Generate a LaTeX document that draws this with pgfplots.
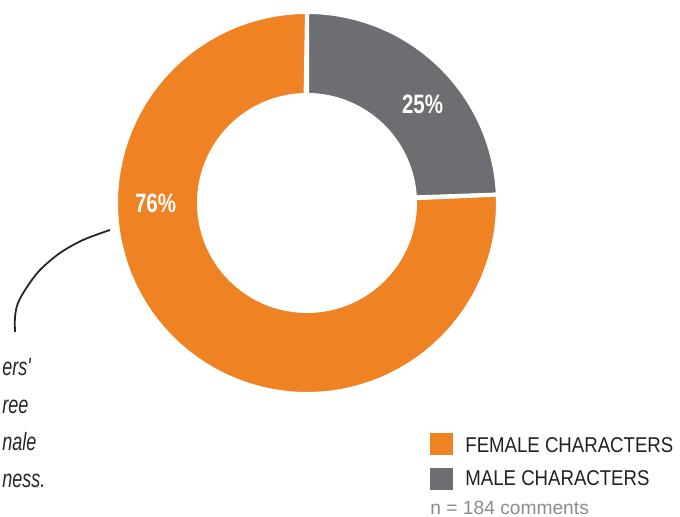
\documentclass[border=0pt]{standalone}
\usepackage{pgfplots}
\pgfplotsset{compat=1.18}
\usepackage{fontspec}
\setmainfont{Liberation Sans}
\newfontfamily\cond{Liberation Sans}[FakeStretch=0.87]
\newfontfamily\pctfont{Liberation Sans}[FakeStretch=0.77]
\newfontfamily\hand{Liberation Sans}[FakeStretch=0.72]
\definecolor{femaleC}{HTML}{EF8223}
\definecolor{maleC}{HTML}{6D6E72}
\definecolor{txt}{HTML}{231F20}
\definecolor{ntxt}{HTML}{8C8C8C}
% shares (percent)
\newcommand\maleval{24.3}
\newcommand\femaleval{75.7}
\begin{document}
\begin{tikzpicture}
\useasboundingbox (0,0) rectangle (340pt,258.5pt);
\clip (0,0) rectangle (340pt,258.5pt);
\begin{axis}[
  at={(0,0)}, anchor=south west,
  width=340pt, height=258.5pt, scale only axis,
  xmin=0, xmax=680, ymin=0, ymax=517,
  axis lines=none, clip=false,
]
% male slice: from 90 deg clockwise
\pgfmathsetmacro\mA{90}
\pgfmathsetmacro\mB{90-3.6*\maleval}
\addplot[fill=maleC, draw=white, line width=2pt, domain=0:2, samples=361]
  ({307+ifthenelse(x<1.0001,191,108)*cos(ifthenelse(x<1.0001,\mA+(\mB-\mA)*x,\mB-(\mB-\mA)*(x-1)))},
   {314+ifthenelse(x<1.0001,191,108)*sin(ifthenelse(x<1.0001,\mA+(\mB-\mA)*x,\mB-(\mB-\mA)*(x-1)))}) -- cycle;
% female slice
\pgfmathsetmacro\fA{\mB}
\pgfmathsetmacro\fB{\mB-3.6*\femaleval}
\addplot[fill=femaleC, draw=white, line width=2pt, domain=0:2, samples=721]
  ({307+ifthenelse(x<1.0001,191,108)*cos(ifthenelse(x<1.0001,\fA+(\fB-\fA)*x,\fB-(\fB-\fA)*(x-1)))},
   {314+ifthenelse(x<1.0001,191,108)*sin(ifthenelse(x<1.0001,\fA+(\fB-\fA)*x,\fB-(\fB-\fA)*(x-1)))}) -- cycle;
% labels
\node[text=white, font=\pctfont\bfseries\fontsize{13.3}{14}\selectfont] at (axis cs:422.5,413) {25\%};
\node[text=white, font=\pctfont\bfseries\fontsize{13.3}{14}\selectfont] at (axis cs:155.5,314) {76\%};
% annotation curve
\addplot[smooth, draw=black!85, line width=0.9pt, tension=0.55] coordinates {
 (110,287) (83,277) (60,264) (40,247) (27,230) (18,214) (15,200) (15,185)};
% handwritten note (fragments visible inside the image border)
\node[anchor=base west, inner sep=0pt, text=black!85, font=\hand\itshape\fontsize{12.5}{14}\selectfont] at (axis cs:2,141) {ers'};
\node[anchor=base west, inner sep=0pt, text=black!85, font=\hand\itshape\fontsize{12.5}{14}\selectfont] at (axis cs:2,103) {ree};
\node[anchor=base west, inner sep=0pt, text=black!85, font=\hand\itshape\fontsize{12.5}{14}\selectfont] at (axis cs:2,66) {nale};
\node[anchor=base west, inner sep=0pt, text=black!85, font=\hand\itshape\fontsize{12.5}{14}\selectfont] at (axis cs:2,29) {ness.};
% legend
\fill[femaleC] (axis cs:430,62) rectangle (axis cs:453,84);
\fill[maleC] (axis cs:430,27) rectangle (axis cs:453,49);
\node[anchor=base west, inner sep=0pt, text=txt, font=\cond\fontsize{10.7}{12}\selectfont] at (axis cs:465,64) {FEMALE CHARACTERS};
\node[anchor=base west, inner sep=0pt, text=txt, font=\cond\fontsize{10.7}{12}\selectfont] at (axis cs:465,31) {MALE CHARACTERS};
\node[anchor=base west, inner sep=0pt, text=ntxt, font=\fontsize{9.6}{11}\selectfont] at (axis cs:430,2) {n = 184 comments};
\end{axis}
\end{tikzpicture}
\end{document}
